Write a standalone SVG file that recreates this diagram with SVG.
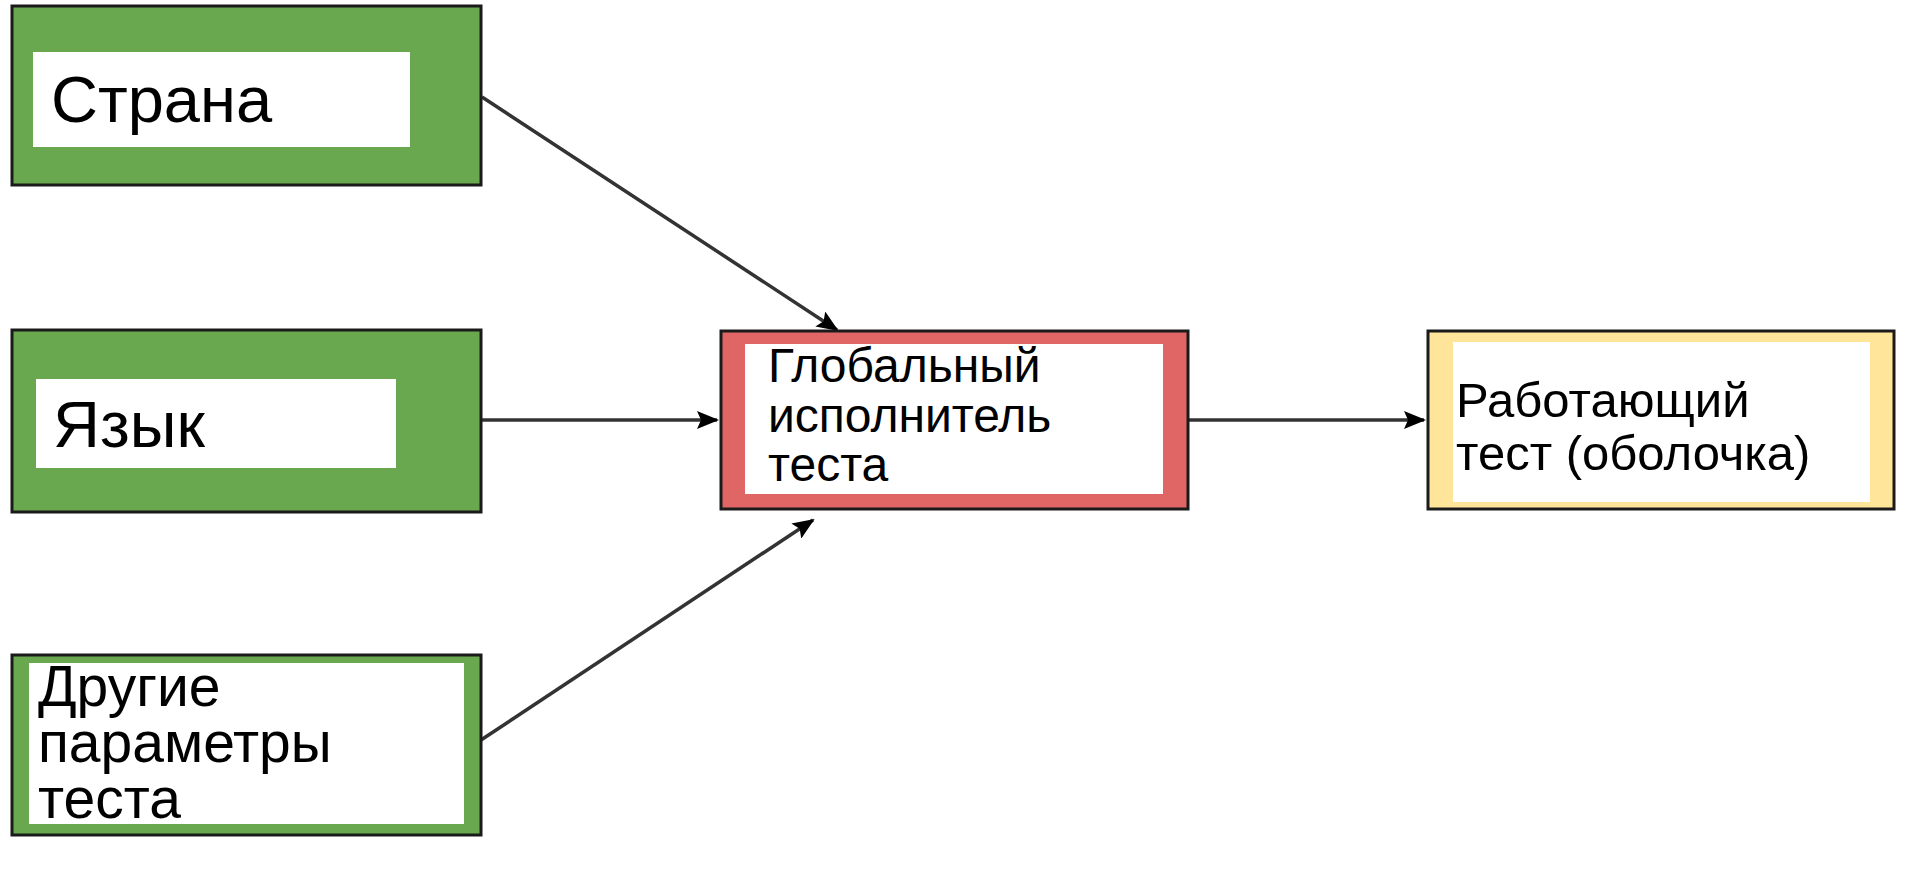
<svg xmlns="http://www.w3.org/2000/svg" width="1920" height="876" viewBox="0 0 1920 876">
<style>
.box{stroke:#1a1a1a;stroke-width:3}
.green{fill:#6aa84f}
.red{fill:#e06666}
.yellow{fill:#ffe599}
.inner{fill:#ffffff}
.t{font-family:"Liberation Sans",Arial,sans-serif;fill:#000}
.edge{stroke:#333;stroke-width:3.5;fill:none;marker-end:url(#arr)}
</style>
<defs>
<marker id="arr" markerUnits="userSpaceOnUse" markerWidth="22" markerHeight="18" refX="20" refY="9" orient="auto">
<path d="M0,0 L22,9 L0,18 L4,9 Z" fill="#000"/>
</marker>
</defs>
<rect width="1920" height="876" fill="#fff"/>
<g id="connectors">
<line class="edge" x1="482" y1="97" x2="837" y2="330"/>
<line class="edge" x1="482" y1="420" x2="717" y2="420"/>
<line class="edge" x1="481" y1="740" x2="813" y2="520"/>
<line class="edge" x1="1188" y1="420" x2="1424" y2="420"/>
</g>
<g id="node-strana">
<rect class="box green" x="12" y="6" width="469" height="179"/>
<rect class="inner" x="33" y="52" width="377" height="95"/>
<text class="t" x="51" y="122" font-size="65">Страна</text>
</g>
<g id="node-yazyk">
<rect class="box green" x="12" y="330" width="469" height="182"/>
<rect class="inner" x="36" y="379" width="360" height="89"/>
<text class="t" x="53" y="447" font-size="65">Язык</text>
</g>
<g id="node-params">
<rect class="box green" x="12" y="655" width="469" height="180"/>
<rect class="inner" x="29" y="663" width="435" height="161"/>
<text class="t" font-size="57"><tspan x="38" y="706">Другие</tspan><tspan x="38" y="762">параметры</tspan><tspan x="38" y="818">теста</tspan></text>
</g>
<g id="node-runner">
<rect class="box red" x="721" y="331" width="467" height="178"/>
<rect class="inner" x="745" y="344" width="418" height="150"/>
<text class="t" font-size="48"><tspan x="768" y="382">Глобальный</tspan><tspan x="768" y="432">исполнитель</tspan><tspan x="768" y="481">теста</tspan></text>
</g>
<g id="node-test">
<rect class="box yellow" x="1428" y="331" width="466" height="178"/>
<rect class="inner" x="1453" y="342" width="417" height="160"/>
<text class="t" font-size="49"><tspan x="1456" y="417">Работающий</tspan><tspan x="1456" y="470">тест (оболочка)</tspan></text>
</g>
</svg>
